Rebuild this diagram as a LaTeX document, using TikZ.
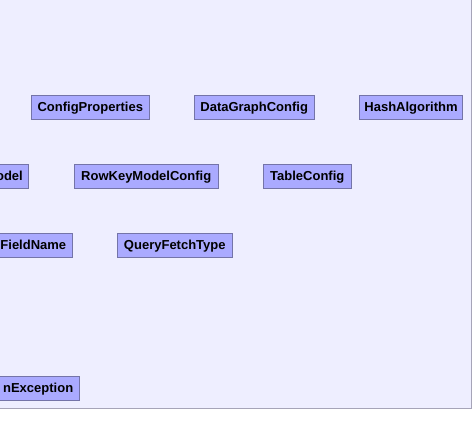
\documentclass[tikz,border=0pt]{standalone}
\usepackage{fontspec}
\setmainfont{Liberation Sans}
\definecolor{panelfill}{HTML}{EEEEFF}
\definecolor{panelline}{HTML}{A6A4B8}
\definecolor{boxfill}{HTML}{AAAAFF}
\definecolor{boxline}{HTML}{7474A8}
\begin{document}
\begin{tikzpicture}[x=1pt,y=-1pt,
  cls/.style={draw=boxline, fill=boxfill, line width=1pt, inner sep=0pt,
    minimum height=24pt, font=\fontsize{13}{15}\selectfont\bfseries, text=black,
    text height=9.4pt, text depth=0pt},
  cut/.style={cls, anchor=east, align=right, inner xsep=6pt, text width=110pt}]
\useasboundingbox (0,0) rectangle (474,446);
\fill[white] (0,0) rectangle (474,446);
\fill[panelfill] (0,0) rectangle (471.3,408.3);
\draw[panelline, line width=1pt] (471.3,0) -- (471.3,408.3) -- (0,408.3);
\begin{scope}
\clip (0,0) rectangle (471,408);
\node[cls, minimum width=118pt] (cp) at (90.3,107.3) {ConfigProperties};
\node[cls, minimum width=119.7pt] (dgc) at (254.2,107.3) {DataGraphConfig};
\node[cls, minimum width=103.4pt] (ha) at (411,107.3) {HashAlgorithm};
\node[cut] (rkm) at (29.3,176.3) {odel};
\node[cls, minimum width=144.3pt] (rkmc) at (146.2,176.3) {RowKeyModelConfig};
\node[cls, minimum width=88pt] (tc) at (307.3,176.3) {TableConfig};
\node[cut] (fn) at (72.7,245.3) {FieldName};
\node[cls, minimum width=115pt] (qft) at (174.8,245.3) {QueryFetchType};
\node[cut] (ex) at (79.7,388.2) {nException};
\end{scope}
\end{tikzpicture}
\end{document}
